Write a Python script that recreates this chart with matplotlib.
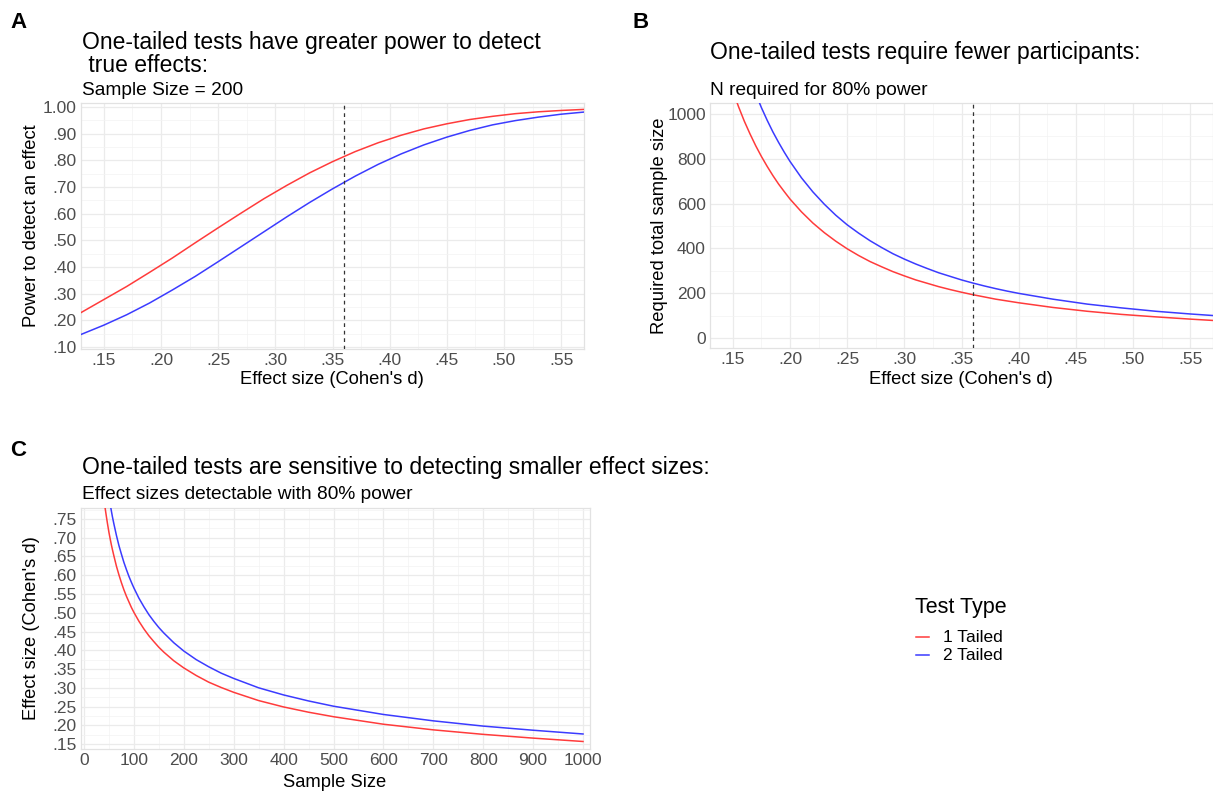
import matplotlib
matplotlib.use("Agg")
import matplotlib.pyplot as plt
from matplotlib.lines import Line2D
from matplotlib.ticker import FixedLocator, FuncFormatter

plt.rcParams['font.family'] = ['Liberation Sans', 'DejaVu Sans']

# ---------------- data ----------------
# Panel A: power at N = 200
effect_a = [0.13, 0.15, 0.17, 0.19, 0.21, 0.23, 0.25, 0.27, 0.29, 0.31, 0.33, 0.35,
            0.37, 0.39, 0.41, 0.43, 0.45, 0.47, 0.49, 0.51, 0.53, 0.55, 0.57]
power_1tail = [0.229, 0.278, 0.327, 0.380, 0.434, 0.491, 0.547, 0.602, 0.656, 0.706, 0.753, 0.795,
               0.833, 0.866, 0.894, 0.918, 0.937, 0.953, 0.965, 0.975, 0.982, 0.987, 0.991]
power_2tail = [0.147, 0.182, 0.221, 0.265, 0.314, 0.365, 0.420, 0.476, 0.532, 0.588, 0.642, 0.693,
               0.741, 0.785, 0.824, 0.858, 0.887, 0.912, 0.933, 0.949, 0.962, 0.973, 0.981]

# Panel B: N required for 80% power
effect_b = [0.15, 0.155, 0.16, 0.165, 0.17, 0.175, 0.18, 0.185, 0.19, 0.195, 0.20, 0.21,
            0.22, 0.23, 0.24, 0.25, 0.26, 0.27, 0.28, 0.29, 0.30, 0.31, 0.32, 0.33,
            0.34, 0.35, 0.36, 0.37, 0.38, 0.39, 0.40, 0.43, 0.46, 0.49, 0.52, 0.55, 0.57]
n_1tail = [1102, 1032, 968, 911, 858, 810, 766, 725, 687, 653, 620, 563,
           513, 470, 432, 398, 368, 341, 318, 296, 277, 259, 244, 229,
           216, 204, 193, 183, 173, 165, 157, 136, 119, 105, 94, 84, 78]
n_2tail = [1399, 1310, 1230, 1156, 1090, 1028, 972, 920, 873, 829, 788, 715,
           652, 597, 548, 505, 468, 434, 404, 376, 352, 330, 310, 291,
           275, 259, 245, 232, 220, 209, 199, 173, 151, 134, 119, 107, 100]

# Panel C: detectable effect size with 80% power
n_c1 = [40, 42, 45, 47, 50, 52, 55, 57, 60, 65, 70, 75, 80, 85, 90, 95, 100, 110, 120,
        130, 140, 150, 160, 180, 200, 225, 250, 275, 300, 350, 400, 450, 500, 600,
        700, 800, 900, 1000]
d_1tail = [0.802, 0.782, 0.755, 0.738, 0.714, 0.700, 0.680, 0.668, 0.651, 0.624, 0.601, 0.580,
           0.561, 0.544, 0.529, 0.514, 0.501, 0.4775, 0.457, 0.4387, 0.423, 0.408, 0.395,
           0.372, 0.353, 0.3327, 0.315, 0.3008, 0.288, 0.266, 0.249, 0.235, 0.223, 0.203,
           0.188, 0.176, 0.166, 0.157]
n_c2 = [50, 52, 55, 57, 60, 65, 70, 75, 80, 85, 90, 95, 100, 110, 120, 130, 140, 150,
        160, 180, 200, 225, 250, 275, 300, 350, 400, 450, 500, 600, 700, 800, 900, 1000]
d_2tail = [0.809, 0.7926, 0.770, 0.7555, 0.736, 0.706, 0.679, 0.656, 0.634, 0.615, 0.597,
           0.581, 0.566, 0.539, 0.516, 0.495, 0.477, 0.4605, 0.446, 0.420, 0.398, 0.375,
           0.356, 0.339, 0.325, 0.300, 0.281, 0.265, 0.251, 0.229, 0.212, 0.198, 0.187, 0.177]

ref_effect = 0.36
series_labels = ["1 Tailed", "2 Tailed"]
legend_title = "Test Type"

xticks_effect = [0.15, 0.20, 0.25, 0.30, 0.35, 0.40, 0.45, 0.50, 0.55]
yticks_power = [0.10, 0.20, 0.30, 0.40, 0.50, 0.60, 0.70, 0.80, 0.90, 1.00]
yticks_n = [0, 200, 400, 600, 800, 1000]
xticks_n = [0, 100, 200, 300, 400, 500, 600, 700, 800, 900, 1000]
yticks_d = [0.15, 0.20, 0.25, 0.30, 0.35, 0.40, 0.45, 0.50, 0.55, 0.60, 0.65, 0.70, 0.75]

# ---------------- styling ----------------
W, H = 1213, 791
RED = '#ff3b3b'
BLUE = '#3b3bff'
LW = 1.1
TICK_COLOR = '#4d4d4d'
TICK_SIZE = 12.5


def fx(px):
    return px / W


def fy(py):
    return 1 - py / H


def ax_rect(left, top, right, bottom):
    return [left / W, 1 - bottom / H, (right - left) / W, (bottom - top) / H]


def dec_fmt(v, pos=None):
    if abs(v - 1.0) < 1e-9:
        return "1.00"
    return ("%.2f" % v)[1:]


def style_axes(ax, xmajor, ymajor, xminor, yminor):
    ax.set_facecolor('white')
    ax.xaxis.set_major_locator(FixedLocator(xmajor))
    ax.yaxis.set_major_locator(FixedLocator(ymajor))
    ax.xaxis.set_minor_locator(FixedLocator(xminor))
    ax.yaxis.set_minor_locator(FixedLocator(yminor))
    ax.grid(which='major', color='#ebebeb', linewidth=0.9, zorder=0)
    ax.grid(which='minor', color='#f3f3f3', linewidth=0.5, zorder=0)
    ax.set_axisbelow(True)
    for s in ax.spines.values():
        s.set_color('#e2e2e2')
        s.set_linewidth(0.9)
    ax.tick_params(which='both', length=0, labelsize=TICK_SIZE, labelcolor=TICK_COLOR, pad=3)


def mids(ticks, lo, hi):
    step = ticks[1] - ticks[0]
    out = []
    v = ticks[0] - step / 2
    while v <= hi:
        if v >= lo:
            out.append(v)
        v += step
    return out


fig = plt.figure(figsize=(W / 100, H / 100), dpi=100)
fig.patch.set_facecolor('white')

# ---------------- Panel A ----------------
axA = fig.add_axes(ax_rect(81, 103, 584, 349))
axA.plot(effect_a, power_1tail, color=RED, lw=LW, zorder=3)
axA.plot(effect_a, power_2tail, color=BLUE, lw=LW, zorder=3)
axA.axvline(ref_effect, color='#333333', lw=0.9, ls=(0, (3, 3)), zorder=4)
axA.set_xlim(0.13, 0.57)
axA.set_ylim(0.0925, 1.015)
style_axes(axA, xticks_effect, yticks_power, mids(xticks_effect, 0.13, 0.57), mids(yticks_power, 0.0925, 1.015))
axA.xaxis.set_major_formatter(FuncFormatter(dec_fmt))
axA.yaxis.set_major_formatter(FuncFormatter(dec_fmt))

# ---------------- Panel B ----------------
axB = fig.add_axes(ax_rect(710, 103, 1213, 348))
axB.plot(effect_b, n_1tail, color=RED, lw=LW, zorder=3)
axB.plot(effect_b, n_2tail, color=BLUE, lw=LW, zorder=3)
axB.axvline(ref_effect, color='#333333', lw=0.9, ls=(0, (3, 3)), zorder=4)
axB.set_xlim(0.13, 0.57)
axB.set_ylim(-45, 1049)
style_axes(axB, xticks_effect, yticks_n, mids(xticks_effect, 0.13, 0.57), mids(yticks_n, -45, 1049))
axB.xaxis.set_major_formatter(FuncFormatter(dec_fmt))
axB.yaxis.set_major_formatter(FuncFormatter(lambda v, p: "%d" % v))

# ---------------- Panel C ----------------
axC = fig.add_axes(ax_rect(81, 508, 590, 749))
axC.plot(n_c1, d_1tail, color=RED, lw=LW, zorder=3)
axC.plot(n_c2, d_2tail, color=BLUE, lw=LW, zorder=3)
axC.set_xlim(-6, 1014)
axC.set_ylim(0.137, 0.779)
style_axes(axC, xticks_n, yticks_d, mids(xticks_n, -6, 1014), mids(yticks_d, 0.137, 0.779))
axC.xaxis.set_major_formatter(FuncFormatter(lambda v, p: "%d" % v))
axC.yaxis.set_major_formatter(FuncFormatter(dec_fmt))

# ---------------- axis titles ----------------
AXT = 13.2
fig.text(fx(332), fy(384), "Effect size (Cohen's d)", ha='center', va='baseline', fontsize=AXT)
fig.text(fx(961), fy(384), "Effect size (Cohen's d)", ha='center', va='baseline', fontsize=AXT)
fig.text(fx(335), fy(787), "Sample Size", ha='center', va='baseline', fontsize=AXT)
fig.text(fx(32), fy(226), "Power to detect an effect", ha='center', va='center', rotation=90, fontsize=AXT)
fig.text(fx(659), fy(226), "Required total sample size", ha='center', va='center', rotation=90, fontsize=AXT)
fig.text(fx(32), fy(628), "Effect size (Cohen's d)", ha='center', va='center', rotation=90, fontsize=AXT)

# ---------------- titles ----------------
TT = 16.5
ST = 13.8
fig.text(fx(82), fy(49), "One-tailed tests have greater power to detect", ha='left', va='baseline', fontsize=TT)
fig.text(fx(82), fy(72), " true effects:", ha='left', va='baseline', fontsize=TT)
fig.text(fx(82), fy(95), "Sample Size = 200", ha='left', va='baseline', fontsize=ST)

fig.text(fx(710), fy(59), "One-tailed tests require fewer participants:", ha='left', va='baseline', fontsize=TT)
fig.text(fx(710), fy(95), "N required for 80% power", ha='left', va='baseline', fontsize=ST)

fig.text(fx(82), fy(474), "One-tailed tests are sensitive to detecting smaller effect sizes:", ha='left', va='baseline', fontsize=TT)
fig.text(fx(82), fy(499), "Effect sizes detectable with 80% power", ha='left', va='baseline', fontsize=ST)

# panel tags
fig.text(fx(10), fy(28), "A", ha='left', va='baseline', fontsize=16, fontweight='bold')
fig.text(fx(633), fy(28), "B", ha='left', va='baseline', fontsize=16, fontweight='bold')
fig.text(fx(10), fy(456), "C", ha='left', va='baseline', fontsize=16, fontweight='bold')

# ---------------- legend (manual) ----------------
fig.text(fx(915), fy(607), legend_title, ha='left', va='center', fontsize=15.5)
leg_colors = [RED, BLUE]
leg_y = [637, 655]
for lab, col, yy in zip(series_labels, leg_colors, leg_y):
    fig.add_artist(Line2D([fx(916), fx(929)], [fy(yy), fy(yy)], color=col, lw=LW,
                          transform=fig.transFigure))
    fig.text(fx(943), fy(yy), lab, ha='left', va='center', fontsize=12.5)

fig.savefig("out.png", dpi=100, facecolor='white')
